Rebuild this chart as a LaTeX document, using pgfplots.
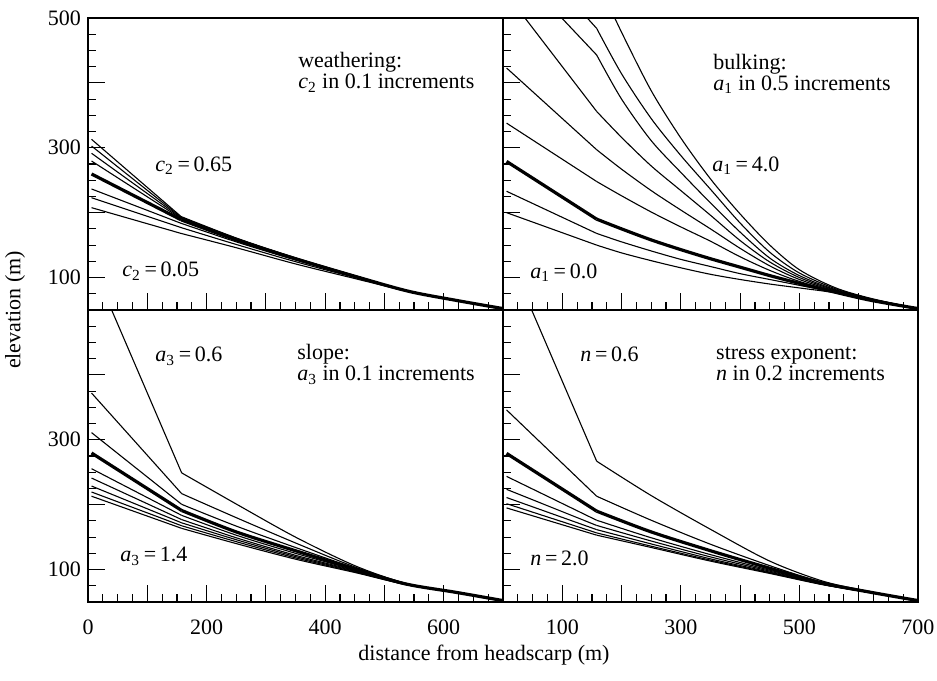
\documentclass[border=0pt]{standalone}
\usepackage{fontspec}
\setmainfont{Liberation Serif}
\usepackage{pgfplots}
\pgfplotsset{compat=1.18}
\newcommand{\tf}{\fontsize{11}{12}\selectfont}
\tikzset{lab/.style={anchor=base west, inner sep=0pt, font=\tf}}
\begin{document}
\begin{tikzpicture}
\pgfplotsset{
  panel/.style={scale only axis, width=207.5pt, height=146pt, anchor=south west,
    xmin=0, xmax=700, ymin=50, ymax=500,
    xtick={0,100,...,700}, ytick={100,200,...,500},
    minor xtick={25,50,...,675}, minor ytick={75,100,...,475},
    tick pos=left, tick align=inside,
    major tick length=8.3pt, minor tick length=4pt,
    tick style={black, line width=0.6pt},
    axis line style={line width=1pt},
    ticklabel style={font=\tf},
    xticklabel style={yshift=-5.5pt},
    /pgf/number format/assume math mode=true},
  thn/.style={black, line width=0.55pt, no markers},
  thk/.style={black, line width=1.6pt, no markers},
}
\path[use as bounding box] (0pt,0pt) rectangle (468.5pt,340pt);

% top left: weathering
\begin{axis}[panel, at={(44pt,185pt)}, xticklabels={}, yticklabels={100,,300,,500}]
\addplot[thn] coordinates {(6,313)(157,194)};
\addplot[thn, smooth] coordinates {(157,194)(250,161)(350,130.5)(450,103)(540,79)(620,65)(698,52.5)};
\addplot[thn] coordinates {(6,302.7)(157,193)};
\addplot[thn, smooth] coordinates {(157,193)(250,160.5)(350,130)(450,102.8)(540,79)(620,65)(698,52.5)};
\addplot[thn] coordinates {(6,291.5)(157,192)};
\addplot[thn, smooth] coordinates {(157,192)(250,160)(350,129.8)(450,102.6)(540,79)(620,65)(698,52.5)};
\addplot[thn] coordinates {(6,279.6)(157,191)};
\addplot[thn, smooth] coordinates {(157,191)(250,159)(350,129.5)(450,102.4)(540,79)(620,65)(698,52.5)};
\addplot[thk] coordinates {(6,259.6)(157,189)};
\addplot[thk, smooth] coordinates {(157,189)(250,158)(350,129)(450,102)(540,79)(620,65)(698,52.5)};
\addplot[thn] coordinates {(6,236.5)(157,183.6)};
\addplot[thn, smooth] coordinates {(157,183.6)(250,155)(350,127)(450,101)(540,79)(620,65)(698,52.5)};
\addplot[thn] coordinates {(6,223)(157,177)};
\addplot[thn, smooth] coordinates {(157,177)(250,151)(350,124.5)(450,100)(540,78.5)(620,65)(698,52.5)};
\addplot[thn] coordinates {(6,207.7)(157,168)};
\addplot[thn, smooth] coordinates {(157,168)(250,146)(350,121)(450,98.5)(540,78.5)(620,65)(698,52.5)};
\node[lab] at (axis cs:354,423) {weathering:};
\node[lab] at (axis cs:354,390.6) {\textit{c}\textsubscript{2} in 0.1 increments};
\node[lab] at (axis cs:113,264.2) {\textit{c}\textsubscript{2}\,=\,0.65};
\node[lab] at (axis cs:57.3,100.9) {\textit{c}\textsubscript{2}\,=\,0.05};
\end{axis}

% top right: bulking
\begin{axis}[panel, at={(251.5pt,185pt)}, xticklabels={}, yticklabels={}]
\addplot[thn] coordinates {(6,200)(158,150)};
\addplot[thn, smooth] coordinates {(158,150)(200,138)(250,126)(300,115)(350,105)(400,97)(450,90)(500,84)(560,76.5)(620,65)(698,52.5)};
\addplot[thn] coordinates {(6,233)(158,168)};
\addplot[thn, smooth] coordinates {(158,168)(200,155)(250,141)(300,128)(350,117)(400,106)(450,97)(500,88)(560,77)(620,65)(698,52.5)};
\addplot[thk] coordinates {(6,279)(158,190)};
\addplot[thk, smooth] coordinates {(158,190)(200,175)(250,158)(300,143)(350,129)(400,116)(450,103)(500,91)(560,77.5)(620,65)(698,52.5)};
\addplot[thn] coordinates {(6,338)(158,248)};
\addplot[thn, smooth] coordinates {(158,248)(200,226)(250,201)(300,178)(350,156)(400,132)(450,111)(500,94)(560,78.5)(620,65.5)(698,52.5)};
\addplot[thn] coordinates {(6,423)(158,297)};
\addplot[thn, smooth] coordinates {(158,297)(200,267)(250,234)(300,204)(350,175)(400,145)(450,118)(500,97)(560,79.5)(620,66)(698,52.5)};
\addplot[thn] coordinates {(6,537)(158,356)};
\addplot[thn, smooth] coordinates {(158,356)(200,316)(250,272)(300,234)(350,196)(400,157)(450,124)(500,100)(560,80.5)(620,66.5)(698,52.5)};
\addplot[thn] coordinates {(6,590)(158,443)};
\addplot[thn, smooth] coordinates {(158,443)(200,375)(250,311)(300,262)(350,215)(400,170)(450,130)(500,103)(560,81.5)(620,67)(698,52.5)};
\addplot[thn] coordinates {(6,637)(158,484)};
\addplot[thn, smooth] coordinates {(158,484)(200,414)(250,345)(300,288)(350,236)(400,184)(450,139)(500,107)(560,83)(620,67.5)(698,52.5)};
\addplot[thn] coordinates {(6,700)(158,560)};
\addplot[thn, smooth] coordinates {(158,560)(200,478)(250,388)(300,315)(350,252)(400,198)(450,150)(500,112)(560,84.5)(620,68)(698,52.5)};
\node[lab] at (axis cs:354,420) {bulking:};
\node[lab] at (axis cs:354,389) {\textit{a}\textsubscript{1} in 0.5 increments};
\node[lab] at (axis cs:352.5,264.2) {\textit{a}\textsubscript{1}\,=\,4.0};
\node[lab] at (axis cs:45.5,99.3) {\textit{a}\textsubscript{1}\,=\,0.0};
\end{axis}

% bottom left: slope
\begin{axis}[panel, at={(44pt,39pt)}, xticklabels={0,,200,,400,,600,}, yticklabels={100,,300,,}]
\addplot[thn] coordinates {(6,572)(158,249)};
\addplot[thn, smooth] coordinates {(158,249)(250,201)(350,150)(450,106)(535,79)(620,65)(698,52.5)};
\addplot[thn] coordinates {(6,372)(158,217)};
\addplot[thn, smooth] coordinates {(158,217)(250,180)(350,141)(450,104)(535,79)(620,65)(698,52.5)};
\addplot[thn] coordinates {(6,311)(158,200.5)};
\addplot[thn, smooth] coordinates {(158,200.5)(250,167)(350,134)(450,102.5)(535,78.5)(620,65)(698,52.5)};
\addplot[thk] coordinates {(6,279.6)(158,191)};
\addplot[thk, smooth] coordinates {(158,191)(250,158)(350,129)(450,101)(535,78)(620,65)(698,52.5)};
\addplot[thn] coordinates {(6,255.4)(158,183.5)};
\addplot[thn, smooth] coordinates {(158,183.5)(250,153)(350,125)(450,99.5)(535,78)(620,64.5)(698,52.5)};
\addplot[thn] coordinates {(6,241)(158,177)};
\addplot[thn, smooth] coordinates {(158,177)(250,149)(350,122)(450,98.5)(535,77.5)(620,64.5)(698,52.5)};
\addplot[thn] coordinates {(6,228.7)(158,172)};
\addplot[thn, smooth] coordinates {(158,172)(250,146)(350,120)(450,97.5)(535,77.5)(620,64.5)(698,52.5)};
\addplot[thn] coordinates {(6,219.5)(158,167.5)};
\addplot[thn, smooth] coordinates {(158,167.5)(250,143)(350,118)(450,96.5)(535,77)(620,64.5)(698,52.5)};
\addplot[thn] coordinates {(6,213)(158,163.5)};
\addplot[thn, smooth] coordinates {(158,163.5)(250,140)(350,116)(450,95.5)(535,77)(620,64.5)(698,52.5)};
\node[lab] at (axis cs:352.5,423) {slope:};
\node[lab] at (axis cs:352.5,390.6) {\textit{a}\textsubscript{3} in 0.1 increments};
\node[lab] at (axis cs:113,420) {\textit{a}\textsubscript{3}\,=\,0.6};
\node[lab] at (axis cs:54,111.7) {\textit{a}\textsubscript{3}\,=\,1.4};
\end{axis}

% bottom right: stress exponent
\begin{axis}[panel, at={(251.5pt,39pt)}, xticklabels={,100,,300,,500,,700}, yticklabels={}]
\addplot[thn] coordinates {(6,590)(158,267)};
\addplot[thn, smooth] coordinates {(158,267)(250,214)(350,162)(450,113)(540,82)(620,66)(698,52.5)};
\addplot[thn] coordinates {(6,346)(158,213)};
\addplot[thn, smooth] coordinates {(158,213)(250,176)(350,139)(450,106)(540,80)(620,65)(698,52.5)};
\addplot[thk] coordinates {(6,279)(158,190)};
\addplot[thk, smooth] coordinates {(158,190)(250,158)(350,129)(450,102)(540,79)(620,65)(698,52.5)};
\addplot[thn] coordinates {(6,243.6)(158,176)};
\addplot[thn, smooth] coordinates {(158,176)(250,149)(350,123)(450,99)(540,78)(620,64.5)(698,52.5)};
\addplot[thn] coordinates {(6,223.6)(158,168)};
\addplot[thn, smooth] coordinates {(158,168)(250,144)(350,119.5)(450,97.5)(540,77.5)(620,64.5)(698,52.5)};
\addplot[thn] coordinates {(6,211)(158,161.5)};
\addplot[thn, smooth] coordinates {(158,161.5)(250,139.5)(350,116.5)(450,96)(540,77)(620,64.5)(698,52.5)};
\addplot[thn] coordinates {(6,201.5)(158,156.5)};
\addplot[thn, smooth] coordinates {(158,156.5)(250,136)(350,114.5)(450,95)(540,77)(620,64.5)(698,52.5)};
\addplot[thn] coordinates {(6,195)(158,153)};
\addplot[thn, smooth] coordinates {(158,153)(250,134)(350,113)(450,94)(540,76.5)(620,64.5)(698,52.5)};
\node[lab] at (axis cs:359,423) {stress exponent:};
\node[lab] at (axis cs:359,390.6) {\textit{n} in 0.2 increments};
\node[lab] at (axis cs:130,420) {\textit{n}\,=\,0.6};
\node[lab] at (axis cs:45.5,107) {\textit{n}\,=\,2.0};
\end{axis}

\node[rotate=90, font=\tf] at (7.5pt,185pt) {elevation (m)};
\node[font=\tf] at (242pt,12.5pt) {distance from headscarp (m)};
\end{tikzpicture}
\end{document}
